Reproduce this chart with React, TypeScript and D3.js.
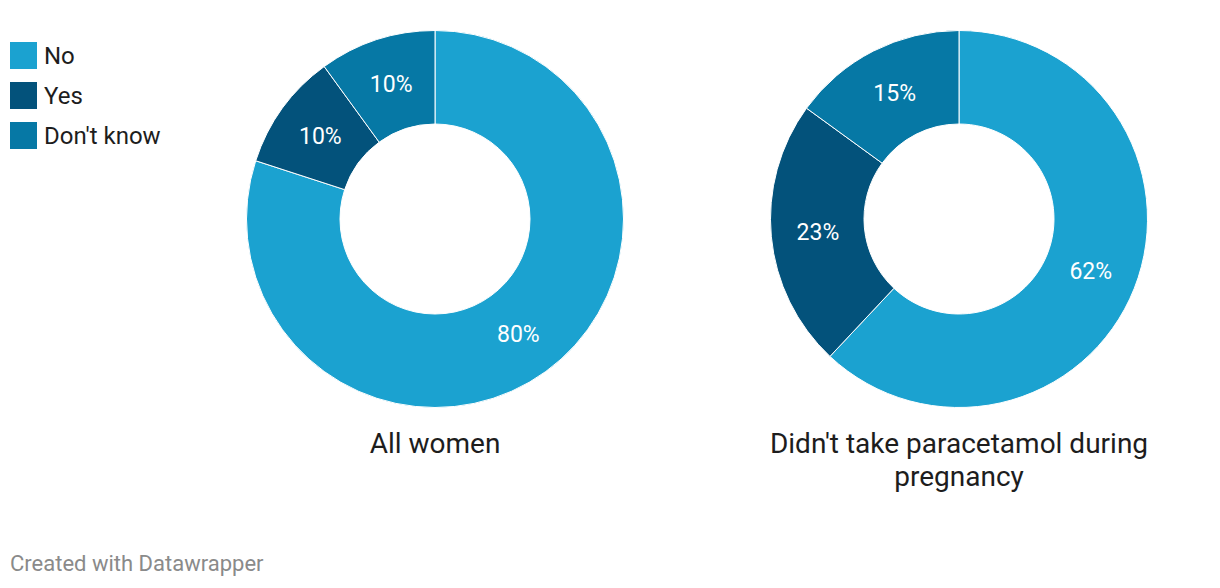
import React from "react";
import * as d3 from "d3";

const categories = ["No", "Yes", "Don't know"];
const colors = ["#1ba2d0", "#03527b", "#0678a5"];
const allWomen = [80, 10, 10];
const noParacetamol = [62, 23, 15];
const chartTitles = [["All women"], ["Didn't take paracetamol during", "pregnancy"]];

const W = 1220;
const H = 588;
const outerR = 188.5;
const innerR = 95;
const centersX = [435, 959];
const centerY = 219;

function Donut({ values, cx, title }: { values: number[]; cx: number; title: string[] }) {
  const pie = d3.pie<number>().sort(null).value((d) => d);
  const arcs = pie(values);
  const arc = d3.arc<d3.PieArcDatum<number>>().innerRadius(innerR).outerRadius(outerR);
  return (
    <g>
      <g transform={`translate(${cx},${centerY})`}>
        {arcs.map((a, i) => (
          <path key={i} d={arc(a) || ""} fill={colors[i]} stroke="#ffffff" strokeWidth={1} />
        ))}
        {arcs.map((a, i) => {
          const [x, y] = arc.centroid(a);
          return (
            <text
              key={"t" + i}
              x={x}
              y={y}
              dy="0.35em"
              textAnchor="middle"
              fill="#ffffff"
              fontSize={23}
              fontFamily="Roboto, sans-serif"
            >
              {values[i]}%
            </text>
          );
        })}
      </g>
      {title.map((line, i) => (
        <text
          key={"h" + i}
          x={cx}
          y={453 + i * 33}
          textAnchor="middle"
          fill="#1d1d1d"
          fontSize={28}
          fontFamily="Roboto, sans-serif"
        >
          {line}
        </text>
      ))}
    </g>
  );
}

export default function App() {
  return (
    <svg
      width={W}
      height={H}
      style={{ position: "absolute", left: 0, top: 0, background: "#fff" }}
    >
      <rect width={W} height={H} fill="#ffffff" />
      {categories.map((c, i) => (
        <g key={c}>
          <rect x={10} y={42 + i * 40} width={27} height={27} fill={colors[i]} />
          <text x={44} y={56 + i * 40} dy="0.35em" fontSize={24} fill="#1d1d1d" fontFamily="Roboto, sans-serif">
            {c}
          </text>
        </g>
      ))}
      <Donut values={allWomen} cx={centersX[0]} title={chartTitles[0]} />
      <Donut values={noParacetamol} cx={centersX[1]} title={chartTitles[1]} />
      <text x={10} y={571} fontSize={22} fill="#8a8a8a" fontFamily="Roboto, sans-serif">
        Created with Datawrapper
      </text>
    </svg>
  );
}
